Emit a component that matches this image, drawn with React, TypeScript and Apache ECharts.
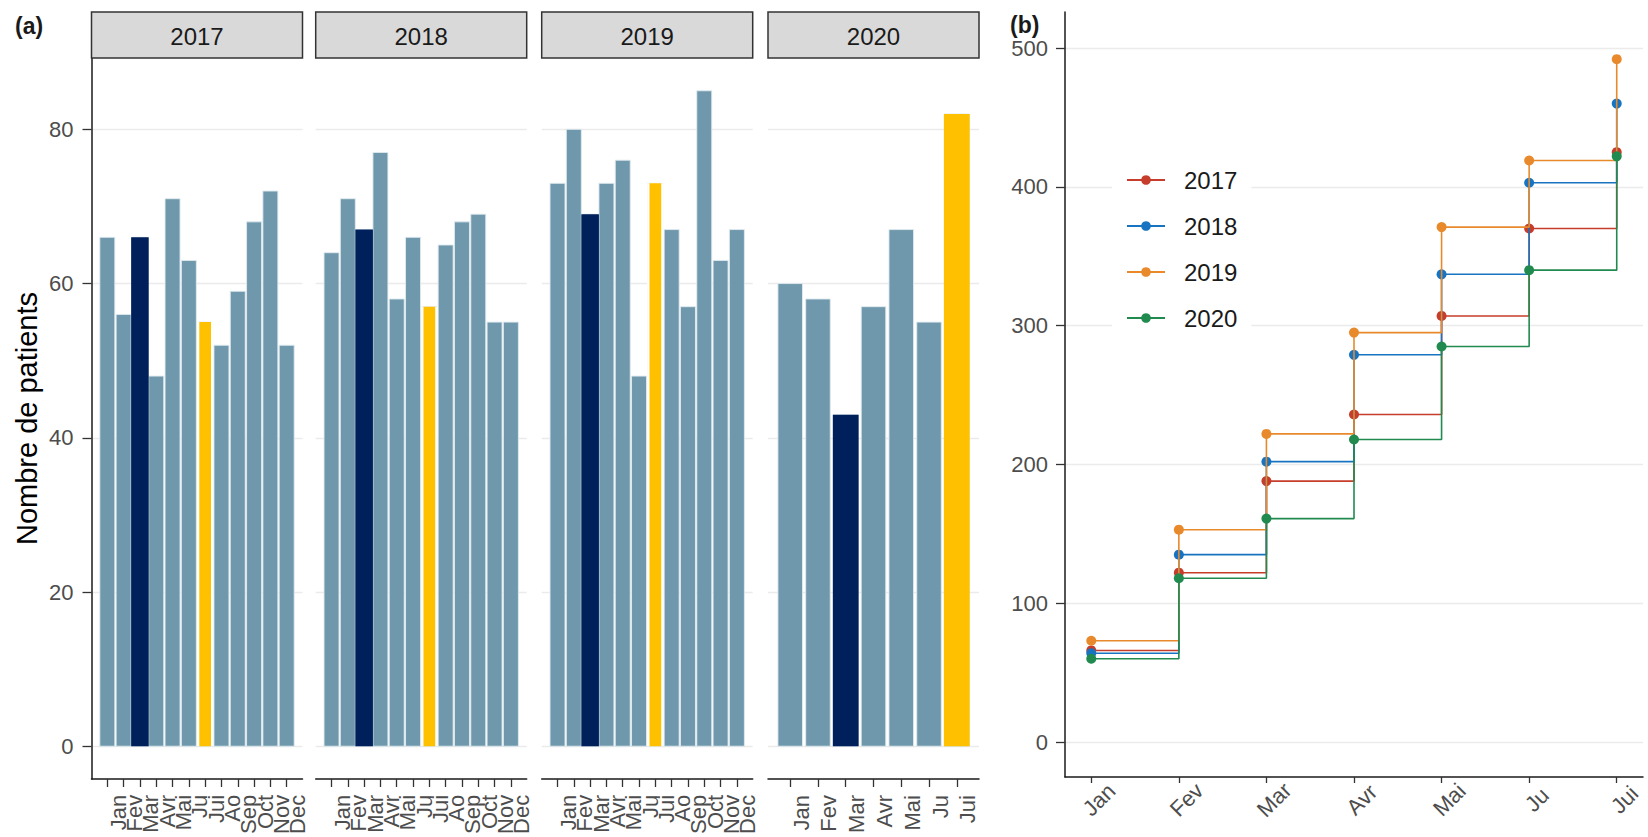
import React, { useEffect, useRef } from 'react';
import * as echarts from 'echarts';

// ---------- data ----------
const MONTHS = ['Jan', 'Fev', 'Mar', 'Avr', 'Mai', 'Ju', 'Jui', 'Ao', 'Sep', 'Oct', 'Nov', 'Dec'];
const YEARS = ['2017', '2018', '2019', '2020'];
const COUNTS_2017 = [66, 56, 66, 48, 71, 63, 55, 52, 59, 68, 72, 52];
const COUNTS_2018 = [64, 71, 67, 77, 58, 66, 57, 65, 68, 69, 55, 55];
const COUNTS_2019 = [73, 80, 69, 73, 76, 48, 73, 67, 57, 85, 63, 67];
const COUNTS_2020 = [60, 58, 43, 57, 67, 55, 82];
const DARK_MONTH = 2; // Mar
const YELLOW_MONTH = 6; // Jui
const Y_TICKS_COUNTS = [0, 20, 40, 60, 80];
const Y_TICKS_CUMUL = [0, 100, 200, 300, 400, 500];
const CUMUL_MONTH_COUNT = 7;

const COUNTS = [COUNTS_2017, COUNTS_2018, COUNTS_2019, COUNTS_2020];

// ---------- style ----------
const FONT = '"Liberation Sans", Arial, Helvetica, sans-serif';
const BAR_COLOR = '#6f98ac';
const DARK_COLOR = '#00205c';
const YELLOW_COLOR = '#ffc000';
const LINE_COLORS = ['#c63d2b', '#1874c0', '#e88a2c', '#218a4f'];
const AXIS_COLOR = '#1a1a1a';
const TICK_TEXT = '#4d4d4d';
const GRID_COLOR = '#ebebeb';

const PANEL_LEFTS = [91.5, 315.7, 541.7, 768];
const PANEL_W = 211;
const PANEL_TOP = 58;
const PANEL_BOTTOM = 779;

function cumulative(arr: number[], n: number): number[] {
  const out: number[] = [];
  let s = 0;
  for (let i = 0; i < n; i++) {
    s += arr[i];
    out.push(s);
  }
  return out;
}

function makeBarRender(width: number, fill: string, stroke: string, lw: number, bgWidth = 0) {
  return (params: any, api: any) => {
    const x = api.value(0);
    const y = api.value(1);
    const children: any[] = [];
    if (bgWidth > 0) {
      const a0 = api.coord([x - bgWidth / 2, y]);
      const b0 = api.coord([x + bgWidth / 2, 0]);
      children.push({
        type: 'rect',
        shape: { x: a0[0], y: a0[1], width: b0[0] - a0[0], height: b0[1] - a0[1] },
        style: { fill: '#ffffff' },
      });
    }
    const a = api.coord([x - width / 2, y]);
    const b = api.coord([x + width / 2, 0]);
    children.push({
      type: 'rect',
      shape: { x: a[0], y: a[1], width: b[0] - a[0], height: b[1] - a[1] },
      style: { fill, stroke, lineWidth: lw },
    });
    return { type: 'group', children };
  };
}

export default function App() {
  const ref = useRef<HTMLDivElement>(null);

  useEffect(() => {
    document.body.style.margin = '0';
    if (!ref.current) return;
    const chart = echarts.init(ref.current, undefined, { renderer: 'svg' });

    const grids: any[] = [];
    const xAxes: any[] = [];
    const yAxes: any[] = [];
    const series: any[] = [];
    const graphics: any[] = [];
    const labelAxes: { grid: any; x: any; y: any }[] = [];

    const monthLabelStyle = {
      rotate: 90,
      align: 'right',
      verticalAlign: 'top',
      margin: 16,
      fontSize: 22,
      color: TICK_TEXT,
      fontFamily: FONT,
    };

    COUNTS.forEach((counts, i) => {
      const n = counts.length;
      const full = n === 12;
      const pad = full ? 0.97 : 0.8;
      const idx = counts.map((_, k) => k);
      grids.push({
        left: PANEL_LEFTS[i],
        top: PANEL_TOP,
        width: PANEL_W,
        height: PANEL_BOTTOM - PANEL_TOP,
        containLabel: false,
      });
      xAxes.push({
        type: 'value',
        gridIndex: i,
        min: -pad,
        max: n - 1 + pad,
        axisLine: { show: true, onZero: false, lineStyle: { color: AXIS_COLOR, width: 1.5 } },
        axisTick: { show: true, length: 8, customValues: idx, lineStyle: { color: '#333', width: 1.3 } },
        axisLabel: {
          show: !full,
          customValues: idx,
          formatter: (v: number) => MONTHS[Math.round(v)],
          ...monthLabelStyle,
          showMinLabel: true,
          showMaxLabel: true,
        },
        splitLine: { show: false },
      });
      yAxes.push({
        type: 'value',
        gridIndex: i,
        min: -4.25,
        max: 89.25,
        name: i === 0 ? 'Nombre de patients' : '',
        nameLocation: 'middle',
        nameGap: 50,
        nameTextStyle: { fontSize: 29, color: '#000', fontFamily: FONT },
        axisLine: { show: i === 0, onZero: false, lineStyle: { color: AXIS_COLOR, width: 1.5 } },
        axisTick: { show: i === 0, length: 9, customValues: Y_TICKS_COUNTS, lineStyle: { color: '#333', width: 1.3 } },
        axisLabel: {
          show: i === 0,
          customValues: Y_TICKS_COUNTS,
          margin: 18,
          fontSize: 22,
          color: TICK_TEXT,
          fontFamily: FONT,
        },
        splitLine: { show: true, lineStyle: { color: GRID_COLOR, width: 1.3 } },
      });
      if (full) {
        // label-only category axis whose band centres line up with the value axis ticks
        const unit = PANEL_W / (n - 1 + 2 * pad);
        labelAxes.push({
          grid: {
            left: PANEL_LEFTS[i] + (pad - 0.5) * unit,
            top: PANEL_TOP,
            width: n * unit,
            height: PANEL_BOTTOM - PANEL_TOP,
            containLabel: false,
          },
          x: {
            type: 'category',
            data: MONTHS.slice(0, n),
            boundaryGap: true,
            axisLine: { show: false },
            axisTick: { show: false },
            splitLine: { show: false },
            axisLabel: { interval: 0, ...monthLabelStyle },
          },
          y: { type: 'value', show: false, min: 0, max: 1, splitLine: { show: false } },
        });
      }
      series.push({
        type: 'custom',
        xAxisIndex: i,
        yAxisIndex: i,
        encode: { x: 0, y: 1 },
        clip: true,
        renderItem: makeBarRender(full ? 0.92 : 0.885, BAR_COLOR, 'rgba(225,235,240,0.9)', 1),
        data: counts.map((v, k) => [k, v]),
      });
      series.push({
        type: 'custom',
        xAxisIndex: i,
        yAxisIndex: i,
        encode: { x: 0, y: 1 },
        clip: true,
        z: 3,
        renderItem: makeBarRender(full ? 1.08 : 0.93, DARK_COLOR, DARK_COLOR, 0),
        data: [[DARK_MONTH, counts[DARK_MONTH]]],
      });
      series.push({
        type: 'custom',
        xAxisIndex: i,
        yAxisIndex: i,
        encode: { x: 0, y: 1 },
        clip: true,
        z: 3,
        renderItem: makeBarRender(full ? 0.72 : 0.93, YELLOW_COLOR, YELLOW_COLOR, 0, full ? 1.0 : 0),
        data: [[YELLOW_MONTH, counts[YELLOW_MONTH]]],
      });
      graphics.push({
        type: 'rect',
        shape: { x: PANEL_LEFTS[i], y: 12, width: PANEL_W, height: 46 },
        style: { fill: '#d9d9d9', stroke: '#333333', lineWidth: 1.5 },
        z: 10,
      });
      graphics.push({
        type: 'text',
        x: PANEL_LEFTS[i] + PANEL_W / 2,
        y: 36,
        z: 11,
        style: {
          text: YEARS[i],
          fontSize: 24,
          fontFamily: FONT,
          fill: '#1a1a1a',
          align: 'center',
          verticalAlign: 'middle',
          textAlign: 'center',
          textVerticalAlign: 'middle',
        },
      });
    });

    // panel (b)
    const bi = 4;
    const cumIdx = MONTHS.slice(0, CUMUL_MONTH_COUNT).map((_, k) => k);
    grids.push({ left: 1065, top: 12, right: 5, height: 777 - 12, containLabel: false });
    xAxes.push({
      type: 'value',
      gridIndex: bi,
      min: -0.3,
      max: CUMUL_MONTH_COUNT - 1 + 0.3,
      axisLine: { show: true, onZero: false, lineStyle: { color: AXIS_COLOR, width: 1.5 } },
      axisTick: { show: true, length: 6, customValues: cumIdx, lineStyle: { color: '#333', width: 1.3 } },
      axisLabel: {
        customValues: cumIdx,
        formatter: (v: number) => MONTHS[Math.round(v)],
        rotate: 45,
        align: 'center',
        verticalAlign: 'top',
        margin: 15,
        fontSize: 22,
        color: TICK_TEXT,
        fontFamily: FONT,
        showMinLabel: true,
        showMaxLabel: true,
      },
      splitLine: { show: false },
    });
    yAxes.push({
      type: 'value',
      gridIndex: bi,
      min: -25.2,
      max: 526,
      axisLine: { show: true, onZero: false, lineStyle: { color: AXIS_COLOR, width: 1.5 } },
      axisTick: { show: true, length: 9, customValues: Y_TICKS_CUMUL, lineStyle: { color: '#333', width: 1.3 } },
      axisLabel: {
        customValues: Y_TICKS_CUMUL,
        margin: 17,
        fontSize: 22,
        color: TICK_TEXT,
        fontFamily: FONT,
      },
      splitLine: { show: true, lineStyle: { color: GRID_COLOR, width: 1.3 } },
    });
    COUNTS.forEach((counts, i) => {
      const cum = cumulative(counts, CUMUL_MONTH_COUNT);
      series.push({
        type: 'line',
        name: YEARS[i],
        xAxisIndex: bi,
        yAxisIndex: bi,
        step: 'end',
        symbol: 'circle',
        symbolSize: 10,
        showSymbol: true,
        color: LINE_COLORS[i],
        itemStyle: { color: LINE_COLORS[i] },
        lineStyle: { color: LINE_COLORS[i], width: 1.6 },
        data: cum.map((v, k) => [k, v]),
        z: 2 + i,
      });
    });

    // append label-only grids/axes after panel (b)
    labelAxes.forEach((la) => {
      const g = grids.length;
      grids.push(la.grid);
      xAxes.push({ ...la.x, gridIndex: g });
      yAxes.push({ ...la.y, gridIndex: g });
    });

    graphics.push({
      type: 'text',
      x: 15,
      y: 14,
      style: { text: '(a)', fontSize: 23, fontWeight: 'bold', fontFamily: FONT, fill: '#1a1a1a' },
    });
    graphics.push({
      type: 'text',
      x: 1010,
      y: 13,
      style: { text: '(b)', fontSize: 23, fontWeight: 'bold', fontFamily: FONT, fill: '#1a1a1a' },
    });

    chart.setOption({
      animation: false,
      backgroundColor: '#ffffff',
      textStyle: { fontFamily: FONT },
      grid: grids,
      xAxis: xAxes,
      yAxis: yAxes,
      series,
      graphic: graphics,
      legend: {
        data: YEARS,
        orient: 'vertical',
        left: 1112,
        top: 158,
        padding: [8, 14, 8, 14],
        backgroundColor: '#ffffff',
        itemWidth: 38,
        itemHeight: 12,
        itemGap: 18,
        textStyle: { fontSize: 24, color: '#1a1a1a', fontFamily: FONT, lineHeight: 28, padding: [0, 0, 0, 14] },
        z: 10,
      },
    });

    return () => {
      chart.dispose();
    };
  }, []);

  return (
    <div
      ref={ref}
      style={{ position: 'fixed', left: 0, top: 0, width: 1648, height: 837, background: '#fff' }}
    />
  );
}
